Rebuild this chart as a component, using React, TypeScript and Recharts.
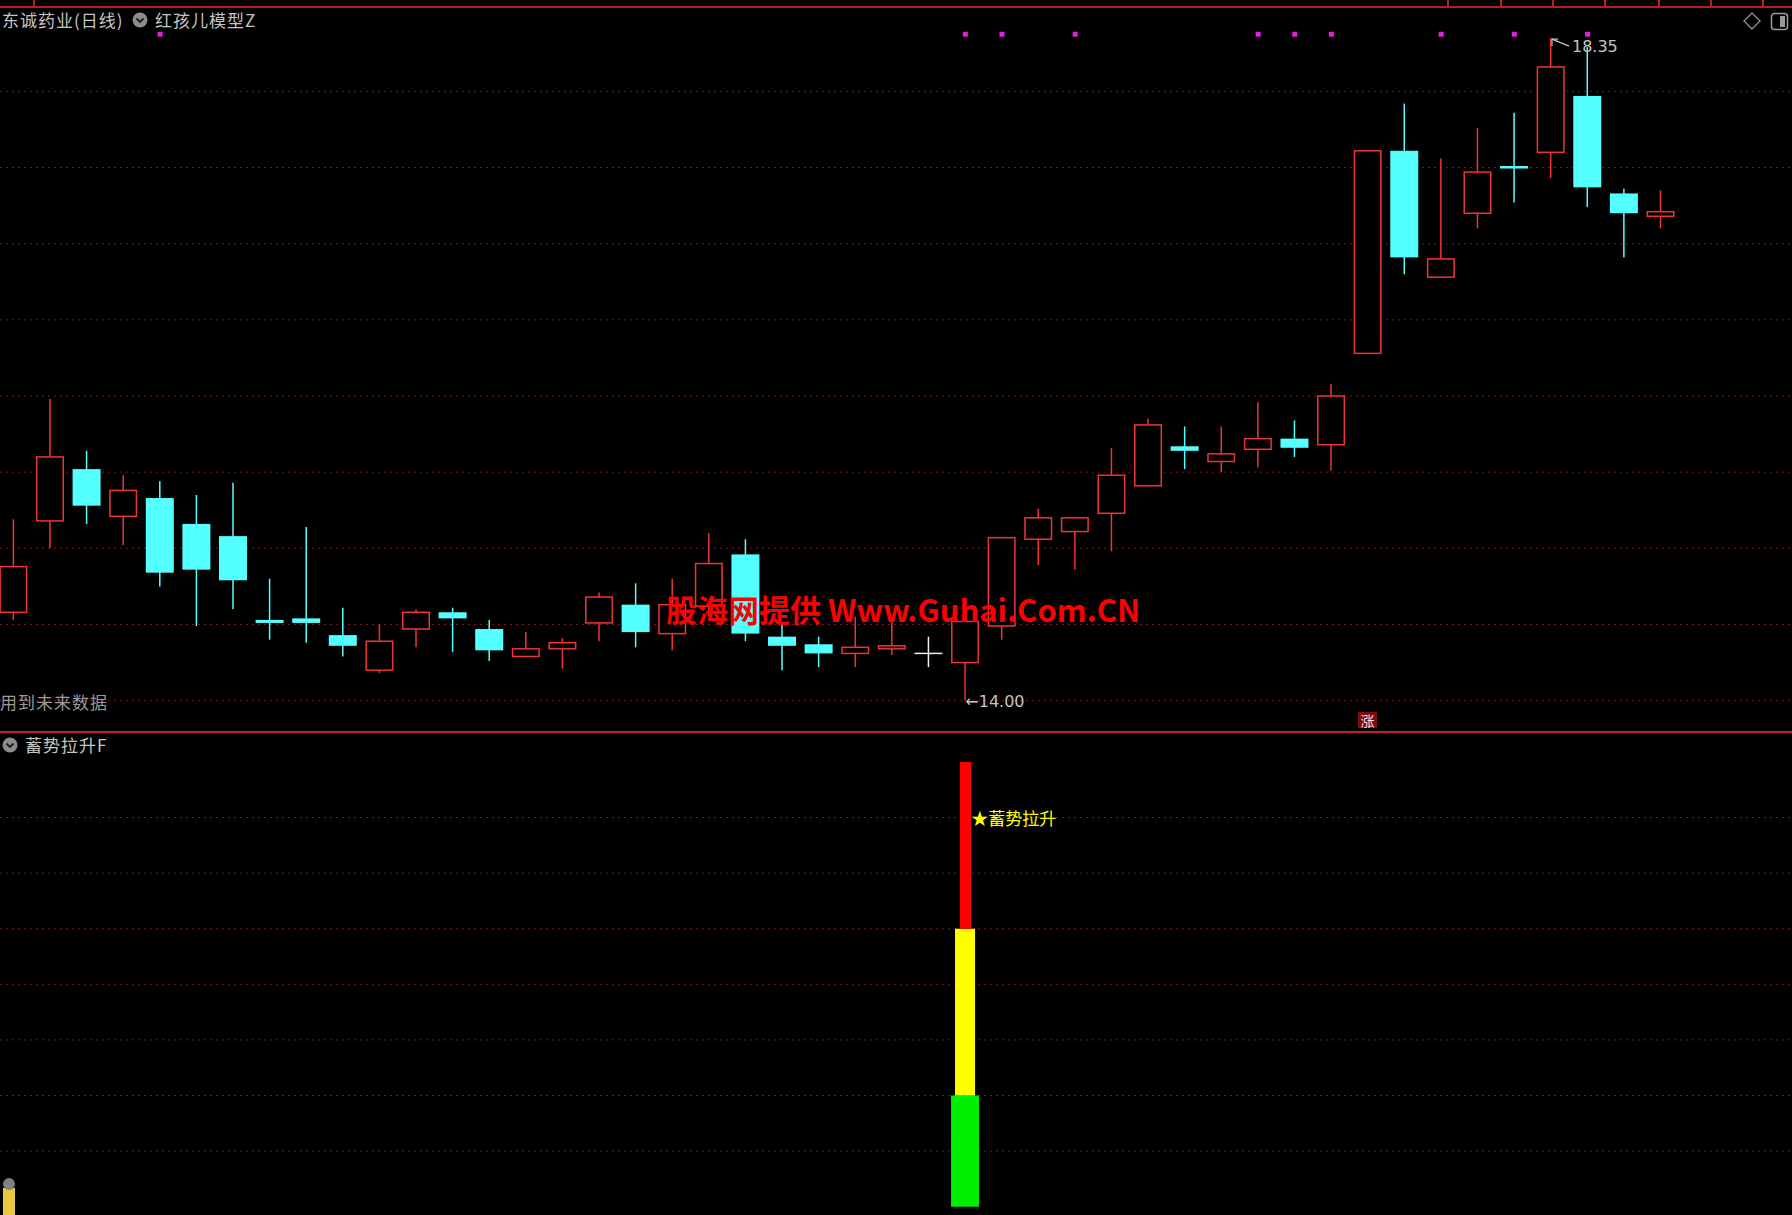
import React from "react";
import { ComposedChart, Bar, Scatter, XAxis, YAxis, CartesianGrid, ReferenceDot } from "recharts";

// trading days shown in the window (index only)
const days = Array.from({ length: 46 }, (_, i) => i);

const opens = [
  14.58, 15.18, 15.52, 15.21, 15.33, 15.16, 15.08, 14.53, 14.54, 14.43,
  14.2, 14.47, 14.58, 14.47, 14.29, 14.34, 14.51, 14.63, 14.44, 14.62,
  14.96, 14.42, 14.37, 14.31, 14.34, 14.31, 14.25, 14.49, 15.06, 15.11,
  15.23, 15.41, 15.67, 15.57, 15.65, 15.72, 15.68, 16.28, 17.61, 16.78,
  17.2, 17.51, 17.6, 17.97, 17.33, 17.18,
];
const closes = [
  14.88, 15.6, 15.28, 15.38, 14.84, 14.86, 14.79, 14.51, 14.51, 14.36,
  14.39, 14.58, 14.54, 14.33, 14.34, 14.38, 14.68, 14.45, 14.63, 14.9,
  14.44, 14.36, 14.31, 14.35, 14.36, 14.31, 14.52, 15.07, 15.2, 15.2,
  15.48, 15.81, 15.64, 15.62, 15.72, 15.66, 16.0, 17.61, 16.91, 16.9,
  17.47, 17.5, 18.16, 17.37, 17.2, 17.21,
];
const highs = [
  15.19, 15.98, 15.64, 15.48, 15.44, 15.35, 15.43, 14.8, 15.14, 14.61,
  14.5, 14.6, 14.61, 14.53, 14.45, 14.41, 14.71, 14.77, 14.8, 15.1,
  15.06, 14.51, 14.42, 14.55, 14.54, 14.42, 14.52, 15.07, 15.26, 15.2,
  15.66, 15.85, 15.8, 15.8, 15.96, 15.84, 16.08, 17.61, 17.92, 17.56,
  17.76, 17.86, 18.35, 18.29, 17.36, 17.35,
];
const lows = [
  14.53, 15.0, 15.16, 15.02, 14.75, 14.49, 14.6, 14.4, 14.38, 14.29,
  14.18, 14.35, 14.32, 14.26, 14.29, 14.21, 14.39, 14.35, 14.33, 14.55,
  14.39, 14.2, 14.22, 14.22, 14.3, 14.22, 14.0, 14.4, 14.89, 14.86,
  14.98, 15.41, 15.52, 15.5, 15.53, 15.6, 15.51, 16.28, 16.8, 16.78,
  17.1, 17.27, 17.43, 17.24, 16.91, 17.1,
];

// 红孩儿模型Z signal days (magenta dots) and the 涨 mark
const signalDays = [4, 26, 27, 29, 34, 35, 36, 39, 41, 43];
const signalMarkPrice = 18.375;
const riseDay = 37;

const priceTicks = [14, 14.5, 15, 15.5, 16, 16.5, 17, 17.5, 18];
const priceDomain = [13.794, 18.554];
const dayDomain = [-0.374, 48.585];

// 蓄势拉升F sub-panel
const stickDay = 26;
const greenRange = [0, 2];
const yellowRange = [2, 5];
const redRange = [5, 8];
const stickTicks = [1, 2, 3, 4, 5, 6, 7];
const stickDomain = [-0.149, 8.52];
const stickLabel = "★蓄势拉升";
const stickLabelValue = 7;

const candles = days.map((d, i) => ({
  day: d,
  open: opens[i],
  close: closes[i],
  high: highs[i],
  low: lows[i],
  range: [lows[i], highs[i]],
}));
const signalData = signalDays.map((d) => ({ day: d, mark: signalMarkPrice }));
const stickData = days.map((d) =>
  d === stickDay ? { day: d, green: greenRange, yellow: yellowRange, red: redRange } : { day: d }
);

const hiPrice = Math.max(...highs);
const hiDay = highs.indexOf(hiPrice);
const loPrice = Math.min(...lows);
const loDay = lows.indexOf(loPrice);

const UP = "#f03434";
const DOWN = "#54ffff";
const GRID = "#801616";
const BORDER = "#b81e1e";
const TEXT = "#c4c4c4";

function Candle(props: any) {
  const { x, y, width, height, payload } = props;
  if (!payload || x == null || y == null) return null;
  const { open, close, high, low } = payload;
  const yTop = Math.min(y, y + height);
  const yBot = Math.max(y, y + height);
  const span = high - low;
  const py = (v: number) => (span === 0 ? yTop : yTop + ((high - v) / span) * (yBot - yTop));
  const cx = x + width / 2;
  const bTop = py(Math.max(open, close));
  const bBot = py(Math.min(open, close));

  if (close > open) {
    return (
      <g>
        <line x1={cx} x2={cx} y1={yTop} y2={bTop} stroke={UP} strokeWidth={1.5} />
        <line x1={cx} x2={cx} y1={bBot} y2={yBot} stroke={UP} strokeWidth={1.5} />
        <rect x={x + 0.75} y={bTop} width={width - 1.5} height={Math.max(bBot - bTop, 1.5)} fill="#000" stroke={UP} strokeWidth={1.5} />
      </g>
    );
  }
  if (close < open) {
    return (
      <g>
        <line x1={cx} x2={cx} y1={yTop} y2={yBot} stroke={DOWN} strokeWidth={1.5} />
        <rect x={x} y={bTop} width={width} height={Math.max(bBot - bTop, 2.5)} fill={DOWN} />
      </g>
    );
  }
  return (
    <g>
      <line x1={cx} x2={cx} y1={yTop} y2={yBot} stroke="#f0f0f0" strokeWidth={1.5} />
      <line x1={x} x2={x + width} y1={bTop} y2={bTop} stroke="#f0f0f0" strokeWidth={1.5} />
    </g>
  );
}

function SignalMark(props: any) {
  const { cx, cy } = props;
  if (cx == null || cy == null) return null;
  return <rect x={cx - 2.5} y={cy - 2.5} width={5} height={5} fill="#e020e0" />;
}

function center(vb: any) {
  return { cx: vb.x + (vb.width || 0) / 2, cy: vb.y + (vb.height || 0) / 2 };
}

function HighTag(props: any) {
  if (!props.viewBox) return null;
  const { cx, cy } = center(props.viewBox);
  return (
    <g>
      <path d={`M${cx + 1},${cy + 1} L${cx + 18},${cy + 8}`} stroke={TEXT} strokeWidth={1.2} fill="none" />
      <path d={`M${cx + 1},${cy + 8} L${cx + 1},${cy + 1} L${cx + 7},${cy + 1}`} stroke={TEXT} strokeWidth={1.2} fill="none" />
      <text x={cx + 21} y={cy + 14} fill={TEXT} fontSize={16} fontFamily="DejaVu Sans">
        {props.text}
      </text>
    </g>
  );
}

function LowTag(props: any) {
  if (!props.viewBox) return null;
  const { cx, cy } = center(props.viewBox);
  return (
    <text x={cx} y={cy + 1} fill={TEXT} fontSize={16} fontFamily="DejaVu Sans" dominantBaseline="central">
      {"←" + props.text}
    </text>
  );
}

function RiseTag(props: any) {
  if (!props.viewBox) return null;
  const { cx, cy } = center(props.viewBox);
  return (
    <g>
      <rect x={cx - 10} y={cy - 20} width={19} height={16} fill="#7c0c0c" />
      <text x={cx - 0.5} y={cy - 12} fill="#ffd8d8" fontSize={14} textAnchor="middle" dominantBaseline="central" fontFamily='"Noto Sans CJK SC"'>
        涨
      </text>
    </g>
  );
}

function StickTag(props: any) {
  if (!props.viewBox) return null;
  const { cx, cy } = center(props.viewBox);
  return (
    <text x={cx + 6} y={cy} fill="#ffff00" fontSize={17} dominantBaseline="central" fontFamily='"Noto Sans CJK SC"'>
      {props.text}
    </text>
  );
}

function Chevron({ left, top }: { left: number; top: number }) {
  return (
    <svg style={{ position: "absolute", left, top }} width={16} height={16}>
      <circle cx={8} cy={8} r={7.5} fill="#8c8c8c" />
      <path d="M4.5,6.5 L8,10 L11.5,6.5" stroke="#1a1a1a" strokeWidth={1.8} fill="none" />
    </svg>
  );
}

const label: React.CSSProperties = {
  position: "absolute",
  color: TEXT,
  fontSize: 17,
  letterSpacing: 1,
  whiteSpace: "nowrap",
  lineHeight: "20px",
};

export default function App() {
  return (
    <div
      style={{
        position: "fixed",
        left: 0,
        top: 0,
        width: 1792,
        height: 1215,
        background: "#000",
        overflow: "hidden",
        fontFamily: '"Noto Sans CJK SC", sans-serif',
      }}
    >
      <div style={{ position: "absolute", left: 0, top: 6, width: 1792, height: 2, background: BORDER }} />
      {[33, 1447, 1500, 1552, 1604, 1658, 1710, 1762].map((x) => (
        <div key={x} style={{ position: "absolute", left: x, top: 0, width: 2, height: 7, background: BORDER }} />
      ))}

      <div style={{ position: "absolute", left: 0, top: 7 }}>
        <ComposedChart width={1792} height={725} data={candles} margin={{ top: 0, right: 0, bottom: 0, left: 0 }}>
          <CartesianGrid vertical={false} horizontalValues={priceTicks} stroke={GRID} strokeDasharray="2 4" />
          <XAxis dataKey="day" type="number" domain={dayDomain} allowDataOverflow ticks={days} hide />
          <YAxis type="number" domain={priceDomain} allowDataOverflow ticks={priceTicks} hide />
          <Bar dataKey="range" barSize={28} shape={(p: any) => <Candle {...p} />} isAnimationActive={false} />
          <Scatter data={signalData} dataKey="mark" shape={(p: any) => <SignalMark {...p} />} isAnimationActive={false} />
          <ReferenceDot x={hiDay} y={hiPrice} r={2} fill="none" stroke="none" ifOverflow="visible" label={<HighTag text={hiPrice.toFixed(2)} />} />
          <ReferenceDot x={loDay} y={loPrice} r={2} fill="none" stroke="none" ifOverflow="visible" label={<LowTag text={loPrice.toFixed(2)} />} />
          <ReferenceDot x={riseDay} y={priceDomain[0]} r={2} fill="none" stroke="none" ifOverflow="visible" label={<RiseTag />} />
        </ComposedChart>
      </div>

      <div style={{ position: "absolute", left: 0, top: 731, width: 1792, height: 2, background: "#c82020" }} />

      <div style={{ position: "absolute", left: 0, top: 733 }}>
        <ComposedChart width={1792} height={482} data={stickData} margin={{ top: 0, right: 0, bottom: 0, left: 0 }}>
          <CartesianGrid vertical={false} horizontalValues={stickTicks} stroke={GRID} strokeDasharray="2 4" />
          <XAxis dataKey="day" type="number" domain={dayDomain} allowDataOverflow ticks={days} hide />
          <XAxis xAxisId="mid" dataKey="day" type="number" domain={dayDomain} allowDataOverflow ticks={days} hide />
          <XAxis xAxisId="top" dataKey="day" type="number" domain={dayDomain} allowDataOverflow ticks={days} hide />
          <YAxis type="number" domain={stickDomain} allowDataOverflow ticks={stickTicks} hide />
          <Bar dataKey="green" barSize={28} fill="#00ee00" isAnimationActive={false} />
          <Bar xAxisId="mid" dataKey="yellow" barSize={20} fill="#ffff00" isAnimationActive={false} />
          <Bar xAxisId="top" dataKey="red" barSize={11} fill="#ff0000" isAnimationActive={false} />
          <ReferenceDot x={stickDay} y={stickLabelValue} r={2} fill="none" stroke="none" ifOverflow="visible" label={<StickTag text={stickLabel} />} />
        </ComposedChart>
      </div>

      {/* header texts */}
      <div style={{ ...label, left: 2, top: 10 }}>东诚药业(日线)</div>
      <Chevron left={132} top={12} />
      <div style={{ ...label, left: 155, top: 10 }}>红孩儿模型Z</div>
      <div style={{ ...label, left: 0, top: 692, color: "#9a9a9a" }}>用到未来数据</div>
      <Chevron left={2} top={737} />
      <div style={{ ...label, left: 25, top: 735 }}>蓄势拉升F</div>

      <svg style={{ position: "absolute", left: 1740, top: 10 }} width={52} height={24}>
        <path d="M12,3 L20,11 L12,19 L4,11 Z" stroke="#8c8c8c" strokeWidth={1.4} fill="none" />
        <rect x={31.5} y={3.5} width={16} height={16} rx={3} stroke="#9a9a9a" strokeWidth={1.5} fill="none" />
        <rect x={40} y={6} width={5} height={11} fill="#9a9a9a" />
      </svg>

      <div style={{ position: "absolute", left: 3, top: 1188, width: 12, height: 27, background: "#e8c840" }} />
      <div style={{ position: "absolute", left: 3, top: 1178, width: 12, height: 12, borderRadius: 6, background: "#808080" }} />

      <div
        style={{
          position: "absolute",
          left: 666,
          top: 588,
          color: "#ff0000",
          fontSize: 31,
          fontWeight: 700,
          whiteSpace: "nowrap",
          lineHeight: "42px",
        }}
      >
        股海网提供 Www.Guhai.Com.CN
      </div>
    </div>
  );
}
